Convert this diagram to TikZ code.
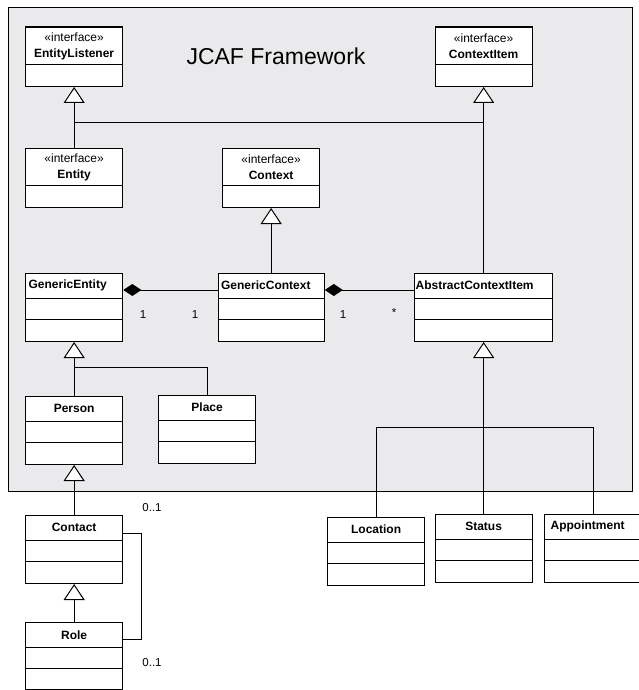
\documentclass[tikz,border=0pt]{standalone}
\usepackage{fontspec}
\setmainfont{Liberation Sans}
\usetikzlibrary{positioning}
\usetikzlibrary{calc}
\usetikzlibrary{shapes.multipart}
\usetikzlibrary{arrows.meta}
\definecolor{framegray}{RGB}{234,234,236}
\tikzset{
    % Open triangle for generalisation, filled diamond for composition
    generalisation/.style={-{Triangle[length=16pt, width=21pt, fill=white]}},
    composition/.style={-{Diamond[length=18pt, width=12pt]}},
%
    % Plain connecting line
    link/.style={line width=1pt},
%
    % UML class box, placed by its top left corner
    class box/.style={
        rectangle split, rectangle split parts=3, draw, line width=1.3pt,
        fill=white, inner sep=0pt, anchor=north west,
        font=\fontsize{12}{16}\selectfont},
    % Interface box: stereotype and name, one empty compartment
    interface box/.style={class box, rectangle split parts=2},
%
    % Multiplicity figures beside the associations
    multiplicity/.style={font=\fontsize{11.5}{14}\selectfont}}

% Compartments of a box: width, height, contents
% (the split lines add their own width between the parts)
\newcommand{\namepart}[3]{\parbox[c][#2][c]{#1}{\centering\bfseries #3}}
\newcommand{\leftnamepart}[4][3pt]{\parbox[c][#3][c]{#2}{\bfseries\hspace*{#1}#4}}
\newcommand{\ifacepart}[2]{\parbox[c][36.3pt][c]{#1}{\centering «interface»\\ \bfseries #2}}
\newcommand{\emptypart}[2]{\parbox[c][#2][c]{#1}{}}

\begin{document}
\begin{tikzpicture}[x=1pt, y=-1pt]

\useasboundingbox (0,0) rectangle (639,690);

% Framework package

\path [draw, line width=1pt, fill=framegray]
    (8,8) rectangle (632,491);

\node [font=\fontsize{23}{28}\selectfont] (title) at (276,56) {JCAF Framework};

% Interfaces

\node [interface box] (EntityListener) at (25,26.5)
    {
        \ifacepart{97pt}{EntityListener}
    \nodepart{two}
        \emptypart{97pt}{20.3pt}
    };

\node [interface box] (ContextItem) at (434.5,26.5)
    {
        \ifacepart{97pt}{ContextItem}
    \nodepart{two}
        \emptypart{97pt}{20.3pt}
    };

\node [interface box] (Entity) at (25,147.5)
    {
        \ifacepart{97pt}{Entity}
    \nodepart{two}
        \emptypart{97pt}{20.3pt}
    };

\node [interface box] (Context) at (222,147.5)
    {
        \ifacepart{97pt}{Context}
    \nodepart{two}
        \emptypart{97pt}{20.3pt}
    };

% Classes inside the framework

\node [class box] (GenericEntity) at (25,272.5)
    {
        \leftnamepart{97pt}{23.8pt}{GenericEntity}
    \nodepart{two}
        \emptypart{97pt}{20.2pt}
    \nodepart{three}
        \emptypart{97pt}{20.3pt}
    };

\node [class box] (GenericContext) at (217.5,272.5)
    {
        \leftnamepart{106pt}{23.8pt}{GenericContext}
    \nodepart{two}
        \emptypart{106pt}{20.2pt}
    \nodepart{three}
        \emptypart{106pt}{20.3pt}
    };

\node [class box] (AbstractContextItem) at (414,272.5)
    {
        \leftnamepart[1pt]{138pt}{23.8pt}{AbstractContextItem}
    \nodepart{two}
        \emptypart{138pt}{20.2pt}
    \nodepart{three}
        \emptypart{138pt}{20.3pt}
    };

\node [class box] (Person) at (25,395.5)
    {
        \namepart{97pt}{23.8pt}{Person}
    \nodepart{two}
        \emptypart{97pt}{20.2pt}
    \nodepart{three}
        \emptypart{97pt}{20.3pt}
    };

\node [class box] (Place) at (158,394.5)
    {
        \namepart{97pt}{23.8pt}{Place}
    \nodepart{two}
        \emptypart{97pt}{20.2pt}
    \nodepart{three}
        \emptypart{97pt}{20.3pt}
    };

% Classes outside the framework

\node [class box] (Contact) at (25,514.5)
    {
        \namepart{97pt}{23.8pt}{Contact}
    \nodepart{two}
        \emptypart{97pt}{20.2pt}
    \nodepart{three}
        \emptypart{97pt}{20.3pt}
    };

\node [class box] (Role) at (25,622)
    {
        \namepart{97pt}{23.3pt}{Role}
    \nodepart{two}
        \emptypart{97pt}{19.7pt}
    \nodepart{three}
        \emptypart{97pt}{20.3pt}
    };

\node [class box] (Location) at (327,516.5)
    {
        \namepart{97pt}{23.8pt}{Location}
    \nodepart{two}
        \emptypart{97pt}{20.2pt}
    \nodepart{three}
        \emptypart{97pt}{20.3pt}
    };

\node [class box] (Status) at (434.5,513.5)
    {
        \namepart{97pt}{23.8pt}{Status}
    \nodepart{two}
        \emptypart{97pt}{20.2pt}
    \nodepart{three}
        \emptypart{97pt}{20.3pt}
    };

\node [class box] (Appointment) at (544,513.5)
    {
        \leftnamepart[6pt]{98pt}{23.8pt}{Appointment}
    \nodepart{two}
        \emptypart{98pt}{20.2pt}
    \nodepart{three}
        \emptypart{98pt}{20.3pt}
    };

% Generalisations

\draw [link, generalisation] (Entity.north) -- (EntityListener.south);
\draw [link, generalisation] (AbstractContextItem.north) -- (ContextItem.south);
\coordinate (ifacejoin) at (Entity.north |- 0,123);
\draw [link] (ifacejoin) -- (ifacejoin -| ContextItem.south);

\draw [link, generalisation] (GenericContext.north) -- (Context.south);

\draw [link, generalisation] (Person.north) -- (GenericEntity.south);
\coordinate (entityjoin) at (Person.north |- 0,367);
\draw [link] (entityjoin) -| (Place.north);

\draw [link, generalisation] (Contact.north) -- (Person.south);
\draw [link, generalisation] (Role.north) -- (Contact.south);

\draw [link, generalisation] (Status.north) -- (AbstractContextItem.south);
\coordinate (itemjoin) at (Status.north |- 0,427);
\draw [link] (Location.north) |- (itemjoin);
\draw [link] (Appointment.north) |- (itemjoin);

% Compositions and associations

\draw [link, composition]
    ($(GenericContext.north west)+(0,17.5)$) -- ($(GenericEntity.north east)+(0,17.5)$);
\draw [link, composition]
    ($(AbstractContextItem.north west)+(0,17.5)$) -- ($(GenericContext.north east)+(0,17.5)$);
\draw [link]
    ($(Contact.north east)+(0,18.5)$) -- ++(18,0) |- ($(Role.north east)+(0,17)$);

\node [multiplicity] (entitymult) at (143,315) {1};
\node [multiplicity] (contextmult) at (195,315) {1};
\node [multiplicity] (holdermult) at (343,315) {1};
\node [multiplicity] (itemmult) at (394,313) {*};
\node [multiplicity] (contactmult) at (152,508) {0..1};
\node [multiplicity] (rolemult) at (152,663) {0..1};

\end{tikzpicture}
\end{document}
